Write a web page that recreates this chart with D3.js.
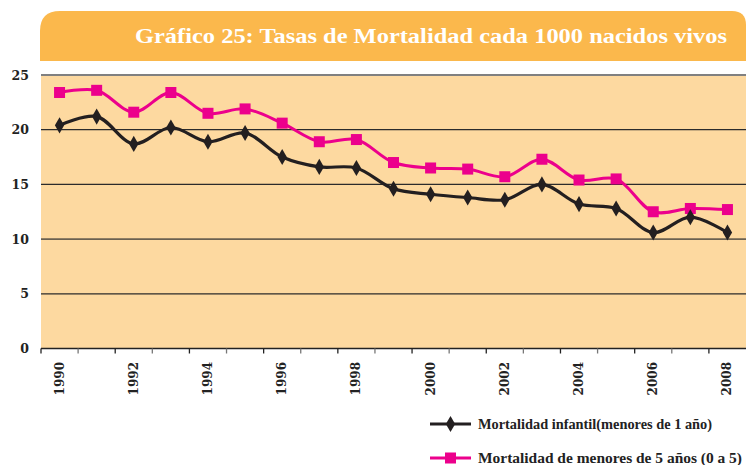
<!DOCTYPE html>
<html><head><meta charset="utf-8">
<script src="https://cdn.jsdelivr.net/npm/d3@7/dist/d3.min.js"></script>
<style>body{margin:0;background:#fff;} svg{display:block;}</style>
</head><body>
<svg id="c" width="746" height="465"></svg>
<script>
const years = [1990,1991,1992,1993,1994,1995,1996,1997,1998,1999,2000,2001,2002,2003,2004,2005,2006,2007,2008];
const infantil = [20.4,21.2,18.7,20.2,18.9,19.7,17.5,16.6,16.5,14.6,14.1,13.8,13.6,15.0,13.2,12.8,10.6,12.0,10.6];
const menores5 = [23.4,23.6,21.6,23.4,21.5,21.9,20.6,18.9,19.1,17.0,16.5,16.4,15.7,17.3,15.4,15.5,12.5,12.8,12.7];
const yTicks = [0,5,10,15,20,25];
const xLabels = [1990,1992,1994,1996,1998,2000,2002,2004,2006,2008];
const title = "Gráfico 25: Tasas de Mortalidad cada 1000 nacidos vivos";
const seriesNames = ["Mortalidad infantil(menores de 1 año)","Mortalidad de menores de 5 años (0 a 5)"];

const svg = d3.select("#c");
const L = 41, R = 746, T = 75, B = 348.5;
const serif = "'DejaVu Serif', 'Liberation Serif', serif";
const lserif = "'Liberation Serif', serif";

// banner
const bx0 = 40, by0 = 11, bx1 = 746, by1 = 61, r1 = 20, r2 = 14;
svg.append("path")
  .attr("d", `M${bx0},${by1} L${bx0},${by0+r1} Q${bx0},${by0} ${bx0+r1},${by0} L${bx1-r2},${by0} Q${bx1},${by0} ${bx1},${by0+r2} L${bx1},${by1} Z`)
  .attr("fill", "#FBB84C");
svg.append("text").text(title)
  .attr("x", 727).attr("y", 43).attr("text-anchor", "end")
  .attr("fill", "#fff").attr("font-family", lserif)
  .attr("font-weight", "bold").attr("font-size", 22)
  .attr("textLength", 592).attr("lengthAdjust", "spacingAndGlyphs");

const x = d3.scaleBand().domain(years).range([L, R]).padding(0);
const y = d3.scaleLinear().domain([0, 25]).range([B, T]);

svg.append("rect").attr("x", L).attr("y", T).attr("width", R - L).attr("height", B - T).attr("fill", "#FDD9A0");

// grid
svg.append("g").selectAll("line").data(yTicks.filter(d => d > 0)).join("line")
  .attr("x1", L).attr("x2", R).attr("y1", d => y(d)).attr("y2", d => y(d))
  .attr("stroke", d => d === 25 ? "#808080" : (d === 10 ? "#6b6150" : "#2b2b2b"))
  .attr("stroke-width", d => d === 25 ? 2.2 : (d === 10 ? 1.6 : 1.2));

// y axis labels
const ya = svg.append("g").attr("transform", `translate(${L},0)`)
  .call(d3.axisLeft(y).tickValues(yTicks).tickSize(0).tickPadding(12).tickFormat(d3.format("d")));
ya.select(".domain").remove();
ya.selectAll("text").attr("font-family", serif).attr("font-weight", "bold").attr("font-size", 12.5).attr("fill", "#222");

// x axis
svg.append("line").attr("x1", L).attr("x2", R).attr("y1", B).attr("y2", B).attr("stroke", "#222").attr("stroke-width", 1.5);
svg.append("g").selectAll("line").data(years).join("line")
  .attr("x1", d => x(d)).attr("x2", d => x(d)).attr("y1", B).attr("y2", B + 5)
  .attr("stroke", d => (d % 2 === 0) ? "#222" : "#777").attr("stroke-width", 1.3);
svg.append("g").selectAll("text").data(xLabels).join("text")
  .text(d => d)
  .attr("transform", d => `translate(${x(d) + x.bandwidth()/2 + 4},362) rotate(-90)`)
  .attr("text-anchor", "end")
  .attr("font-family", serif).attr("font-weight", "bold").attr("font-size", 12).attr("fill", "#222");

// lines
const cx = d => x(d) + x.bandwidth() / 2;
const line = d3.line().x((d, i) => cx(years[i])).y(d => y(d)).curve(d3.curveCatmullRom.alpha(0.5));
svg.append("path").datum(menores5).attr("d", line).attr("fill", "none").attr("stroke", "#EC008C").attr("stroke-width", 3);
svg.append("path").datum(infantil).attr("d", line).attr("fill", "none").attr("stroke", "#231F20").attr("stroke-width", 3.2);

svg.append("g").selectAll("rect").data(menores5).join("rect")
  .attr("x", (d, i) => cx(years[i]) - 5.5).attr("y", d => y(d) - 5.5)
  .attr("width", 11).attr("height", 11).attr("fill", "#EC008C");
const diamond = d3.symbol().type(d3.symbolDiamond).size(75);
svg.append("g").selectAll("path").data(infantil).join("path")
  .attr("d", diamond).attr("transform", (d, i) => `translate(${cx(years[i])},${y(d)})`)
  .attr("fill", "#231F20");

// legend
const lg = svg.append("g");
const legW = [234, 264];
[[424, "#231F20", "d"], [458, "#EC008C", "s"]].forEach((e, i) => {
  lg.append("line").attr("x1", 430).attr("x2", 471).attr("y1", e[0]).attr("y2", e[0]).attr("stroke", e[1]).attr("stroke-width", 3);
  if (e[2] === "s") lg.append("rect").attr("x", 445).attr("y", e[0] - 5.5).attr("width", 11).attr("height", 11).attr("fill", e[1]);
  else lg.append("path").attr("d", diamond).attr("transform", `translate(450.5,${e[0]})`).attr("fill", e[1]);
  lg.append("text").text(seriesNames[i]).attr("x", 478).attr("y", e[0] + 4.5)
    .attr("font-family", lserif).attr("font-weight", "bold").attr("font-size", 14).attr("fill", "#222")
    .attr("textLength", legW[i]).attr("lengthAdjust", "spacingAndGlyphs");
});
</script>
</body></html>
